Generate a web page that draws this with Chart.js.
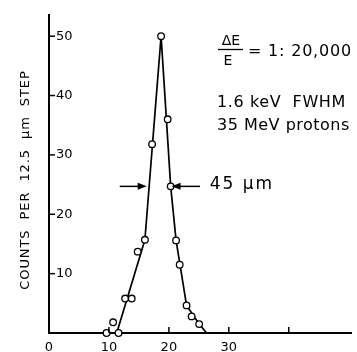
<!DOCTYPE html>
<html><head><meta charset="utf-8">
<script src="https://cdn.jsdelivr.net/npm/chart.js@4.4.0/dist/chart.umd.min.js"></script>
<style>html,body{margin:0;padding:0;background:#fff}#wrap{width:357px;height:352px}</style>
</head><body><div id="wrap"><canvas id="c" width="357" height="352"></canvas></div>
<script>
// measured points (position in 12.5 um steps, counts)
const positionX = [9.6, 10.7, 11.6, 12.7, 13.8, 14.8, 16.0, 17.2, 18.7, 19.8, 20.3, 21.2, 21.8, 22.95, 23.8, 25.05];
const counts    = [0,   1.8,  0,    5.8,  5.8,  13.7, 15.7, 31.8, 50,   36,   24.7, 15.6, 11.5, 4.65,  2.8,  1.5];
// hand-drawn fit line through the profile
const fitX = [11.3, 16.0, 18.7, 20.3, 21.2, 22.95, 25.05, 26.3];
const fitY = [0,    15.7, 50,   24.7, 15.6, 4.65,  1.5,   0];
const xTickValues = [0, 10, 20, 30, 40];
const xTickLabels = ['0', '10', '20', '30', ''];
const yTickValues = [10, 20, 30, 40, 50];
const yTickLabels = ['10', '20', '30', '40', '50'];
const yTitle = 'COUNTS  PER  12.5  \u03bcm  STEP';

const FONT = '"DejaVu Sans", sans-serif';

const extras = {
  id: 'extras',
  afterDraw(chart) {
    const ctx = chart.ctx;
    const xs = chart.scales.x, ys = chart.scales.y;
    const a = chart.chartArea;
    ctx.save();
    ctx.strokeStyle = '#000';
    ctx.fillStyle = '#000';
    ctx.lineWidth = 1.5;
    // inward tick marks
    yTickValues.forEach(v => {
      const py = ys.getPixelForValue(v);
      ctx.beginPath(); ctx.moveTo(a.left, py); ctx.lineTo(a.left + 6, py); ctx.stroke();
    });
    xTickValues.forEach(v => {
      if (v === 0) return;
      const px = xs.getPixelForValue(v);
      ctx.beginPath(); ctx.moveTo(px, a.bottom); ctx.lineTo(px, a.bottom - 6); ctx.stroke();
    });
    // FWHM arrows
    const ay = ys.getPixelForValue(24.7);
    function arrow(x0, x1) {
      const p0 = xs.getPixelForValue(x0), p1 = xs.getPixelForValue(x1);
      const dir = Math.sign(p1 - p0);
      ctx.lineWidth = 1.5;
      ctx.beginPath(); ctx.moveTo(p0, ay); ctx.lineTo(p1 - dir * 6, ay); ctx.stroke();
      ctx.beginPath(); ctx.moveTo(p1, ay); ctx.lineTo(p1 - dir * 9, ay - 3.5); ctx.lineTo(p1 - dir * 9, ay + 3.5); ctx.closePath(); ctx.fill();
    }
    arrow(11.8, 16.3);
    arrow(25.2, 20.45);
    ctx.font = '17px ' + FONT;
    ctx.textBaseline = 'alphabetic';
    ctx.textAlign = 'left';
    ctx.letterSpacing = '2px';
    ctx.fillText('45 \u03bcm', xs.getPixelForValue(26.8), 188.5);
    // energy resolution text
    ctx.font = '14px ' + FONT;
    ctx.textAlign = 'center';
    ctx.letterSpacing = '0px';
    ctx.fillText('\u0394E', 231, 45);
    ctx.fillText('E', 228, 65);
    ctx.lineWidth = 1.3;
    ctx.beginPath(); ctx.moveTo(218, 49.5); ctx.lineTo(243, 49.5); ctx.stroke();
    ctx.textAlign = 'left';
    ctx.font = '16px ' + FONT;
    ctx.letterSpacing = '0.8px';
    ctx.fillText('= 1: 20,000', 248, 56);
    ctx.letterSpacing = '0.6px';
    ctx.fillText('1.6 keV  FWHM', 217, 106.5);
    ctx.letterSpacing = '0.5px';
    ctx.fillText('35 MeV protons', 217, 130);
    // y title
    ctx.font = '13px ' + FONT;
    ctx.letterSpacing = '0.9px';
    ctx.textAlign = 'center';
    ctx.textBaseline = 'middle';
    ctx.translate(25.5, 180);
    ctx.rotate(-Math.PI / 2);
    ctx.fillText(yTitle, 0, 0);
    ctx.restore();
  }
};

new Chart(document.getElementById('c'), {
  type: 'scatter',
  data: {
    datasets: [
      {
        data: positionX.map((x, i) => ({x, y: counts[i]})),
        showLine: false,
        pointStyle: 'circle',
        pointRadius: 3.3,
        pointBackgroundColor: '#fff',
        pointBorderColor: '#000',
        pointBorderWidth: 1.3,
        clip: false,
        order: 0
      },
      {
        data: fitX.map((x, i) => ({x, y: fitY[i]})),
        showLine: true,
        borderColor: '#000',
        borderWidth: 1.7,
        pointRadius: 0,
        tension: 0,
        clip: false,
        order: 1
      }
    ]
  },
  options: {
    responsive: false,
    animation: false,
    devicePixelRatio: 1,
    layout: {padding: {top: 10, right: 5, left: 0, bottom: 0}},
    plugins: {legend: {display: false}, tooltip: {enabled: false}},
    scales: {
      x: {
        type: 'linear', min: 0, max: 50.5,
        afterBuildTicks: s => { s.ticks = xTickValues.map(v => ({value: v})); },
        afterFit: s => { s.height = 19; },
        ticks: {
          callback: (v, i) => xTickLabels[i] ?? '',
          font: {family: FONT, size: 13}, color: '#000', padding: 7,
          maxRotation: 0, autoSkip: false
        },
        grid: {display: true, drawOnChartArea: false, drawTicks: false},
        border: {display: true, color: '#000', width: 2}
      },
      y: {
        type: 'linear', min: 0, max: 53.6,
        afterBuildTicks: s => { s.ticks = yTickValues.map(v => ({value: v})); },
        afterFit: s => { s.width = 49; },
        ticks: {
          mirror: true, padding: 7,
          callback: (v, i) => yTickLabels[i] ?? '',
          font: {family: FONT, size: 13}, color: '#000'
        },
        grid: {display: true, drawOnChartArea: false, drawTicks: false},
        border: {display: true, color: '#000', width: 2}
      }
    }
  },
  plugins: [extras]
});
</script>
</body></html>
